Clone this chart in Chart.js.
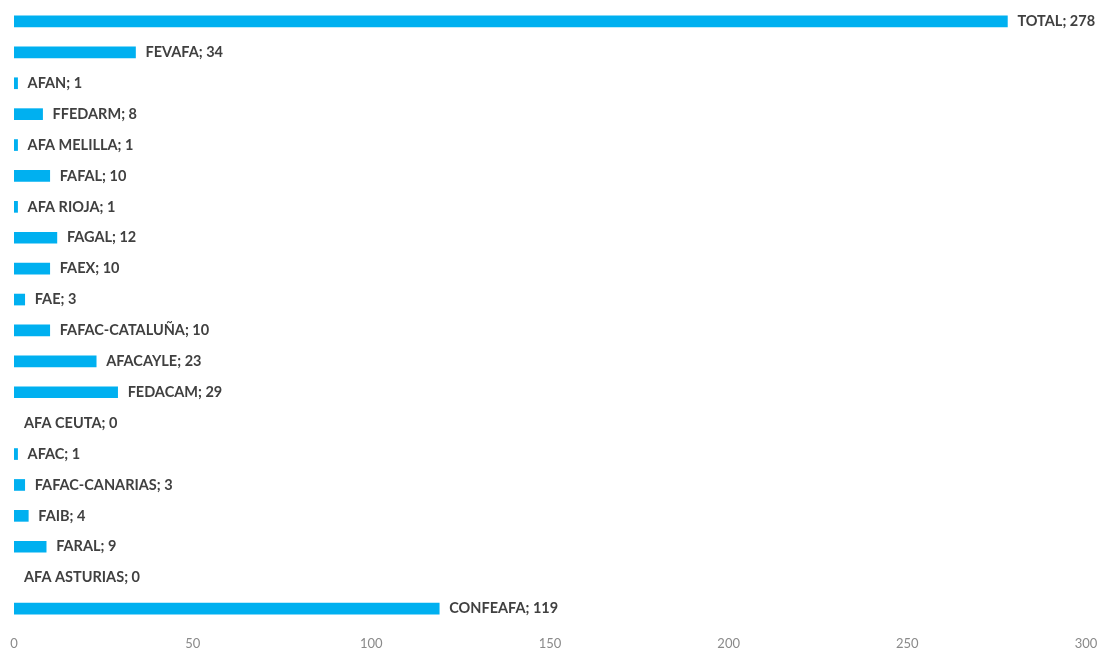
<!DOCTYPE html>
<html>
<head>
<meta charset="utf-8">
<script src="https://cdn.jsdelivr.net/npm/chart.js@4"></script>
<style>
  body { margin: 0; background: #fff; }
  #wrap { width: 1099px; height: 650px; position: relative; }
</style>
</head>
<body>
<div id="wrap"><canvas id="fedChart"></canvas></div>
<script>
// Federaciones (de arriba a abajo) y número de asociaciones
const categorias = ['TOTAL', 'FEVAFA', 'AFAN', 'FFEDARM', 'AFA MELILLA', 'FAFAL', 'AFA RIOJA',
    'FAGAL', 'FAEX', 'FAE', 'FAFAC-CATALUÑA', 'AFACAYLE', 'FEDACAM', 'AFA CEUTA', 'AFAC',
    'FAFAC-CANARIAS', 'FAIB', 'FARAL', 'AFA ASTURIAS', 'CONFEAFA'];
const valores = [278, 34, 1, 8, 1, 10, 1, 12, 10, 3, 10, 23, 29, 0, 1, 3, 4, 9, 0, 119];
const ejeX = { min: 0, max: 300, paso: 50 };

const AZUL = '#00B0F0';

// Etiqueta "NOMBRE; valor" a la derecha de cada barra
const etiquetasBarras = {
    id: 'etiquetasBarras',
    afterDatasetsDraw(chart) {
        const c = chart.ctx;
        const meta = chart.getDatasetMeta(0);
        c.save();
        c.font = 'bold 14.5px Lato, "Open Sans", sans-serif';
        c.fillStyle = '#404040';
        c.textBaseline = 'middle';
        c.textAlign = 'left';
        meta.data.forEach((bar, i) => {
            c.fillText(categorias[i] + '; ' + valores[i], bar.x + 10, bar.y);
        });
        c.restore();
    }
};

document.addEventListener('DOMContentLoaded', function() {
    new Chart(document.getElementById('fedChart'), {
        type: 'bar',
        data: {
            labels: categorias,
            datasets: [{
                data: valores,
                // sin barra visible cuando el valor es 0
                backgroundColor: ctx => ctx.raw === 0 ? 'rgba(0,0,0,0)' : AZUL,
                borderWidth: 0,
                barThickness: 11
            }]
        },
        options: {
            indexAxis: 'y',
            responsive: true,
            maintainAspectRatio: false,
            animation: false,
            layout: { padding: { left: 14, right: 13, top: 6, bottom: 0 } },
            plugins: {
                legend: { display: false },
                tooltip: { enabled: false }
            },
            scales: {
                x: {
                    min: ejeX.min,
                    max: ejeX.max,
                    grid: { display: false, drawTicks: false },
                    border: { display: false },
                    ticks: {
                        stepSize: ejeX.paso,
                        color: '#8a8a8a',
                        padding: 12,
                        font: { family: 'Lato, "Open Sans", sans-serif', size: 13 }
                    },
                    afterFit: scale => {
                        scale.height = 26;
                        scale.paddingLeft = 0;
                        scale.paddingRight = 0;
                    }
                },
                y: { display: false }
            }
        },
        plugins: [etiquetasBarras]
    });
});
</script>
</body>
</html>
